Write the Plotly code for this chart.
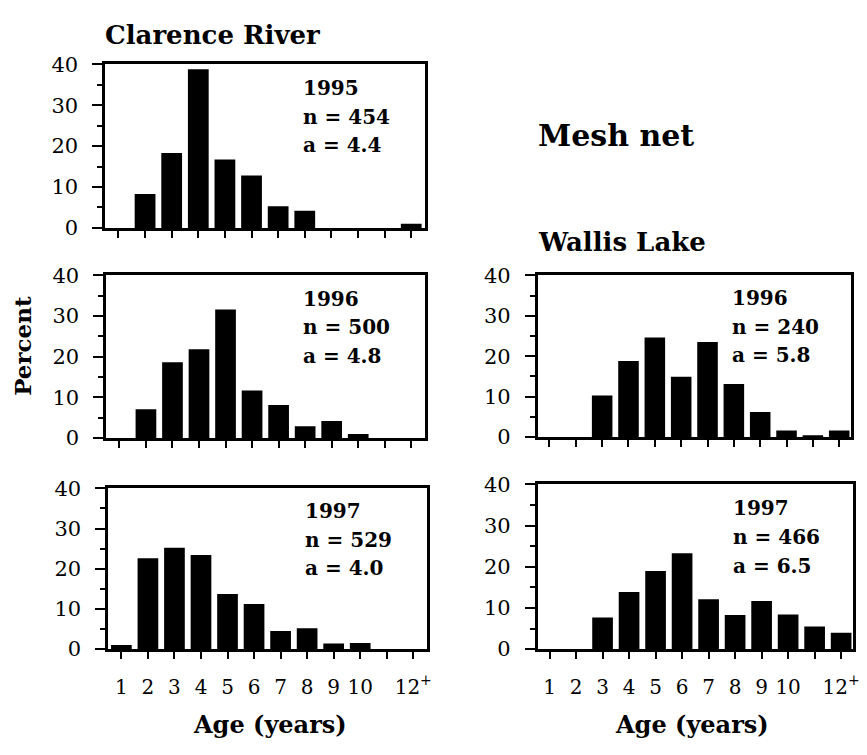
import plotly.graph_objects as go

# ---------------- data ----------------
ages = [1, 2, 3, 4, 5, 6, 7, 8, 9, 10, 11, 12]
age_tick_text = ["1", "2", "3", "4", "5", "6", "7", "8", "9", "10", "", "12<sup>+</sup>"]

clarence_1995 = [0, 8.3, 18.3, 38.8, 16.7, 12.8, 5.3, 4.2, 0, 0, 0, 1.0]
clarence_1996 = [0, 7.1, 18.6, 21.8, 31.6, 11.7, 8.1, 2.9, 4.2, 1.0, 0, 0]
clarence_1997 = [1.0, 22.6, 25.2, 23.4, 13.7, 11.2, 4.5, 5.2, 1.4, 1.5, 0, 0]
wallis_1996 = [0, 0, 10.3, 18.8, 24.6, 14.9, 23.5, 13.1, 6.2, 1.6, 0.3, 1.6]
wallis_1997 = [0, 0, 7.7, 13.9, 19.0, 23.3, 12.1, 8.3, 11.7, 8.4, 5.5, 4.0]

years = ["1995", "1996", "1997", "1996", "1997"]
n_values = ["454", "500", "529", "240", "466"]
a_values = ["4.4", "4.8", "4.0", "5.8", "6.5"]

y_ticks = [0, 10, 20, 30, 40]

# ---------------- layout helpers ----------------
W, H = 867, 755
SERIF = "DejaVu Serif"


def xdom(x0, x1):
    return [x0 / W, x1 / W]


def ydom(top, bottom):
    return [1 - bottom / H, 1 - top / H]


# panel boxes in pixels: (left, right, top, bottom), x-range
panels = [
    (clarence_1995, (106, 428, 54, 223), [0.5, 12.5], False),
    (clarence_1996, (107, 428, 272, 440), [0.5, 12.5], False),
    (clarence_1997, (109, 430, 492, 658), [0.5, 12.5], True),
    (wallis_1996, (542, 858, 272, 439), [0.55, 12.45], False),
    (wallis_1997, (542, 860, 488, 658), [0.55, 12.45], True),
]

fig = go.Figure()
layout = dict(
    width=W,
    height=H,
    margin=dict(l=0, r=0, t=0, b=0),
    paper_bgcolor="white",
    plot_bgcolor="white",
    showlegend=False,
    font=dict(family=SERIF, color="black"),
)

annotations = []
for i, (vals, (l, r, t, b), xr, show_labels) in enumerate(panels):
    k = "" if i == 0 else str(i + 1)
    fig.add_trace(go.Bar(
        x=ages, y=vals, width=0.78,
        marker=dict(color="black", line=dict(width=0)),
        xaxis="x" + k, yaxis="y" + k,
        hoverinfo="x+y",
    ))
    layout["xaxis" + k] = dict(
        domain=xdom(l, r), range=xr, anchor="y" + k,
        tickmode="array", tickvals=ages,
        ticktext=age_tick_text if show_labels else [""] * len(ages),
        showticklabels=show_labels,
        ticks="outside", ticklen=7, tickwidth=2, tickcolor="black",
        showline=True, linewidth=2.5, linecolor="black", mirror=True,
        showgrid=False, zeroline=False,
        tickfont=dict(family=SERIF, size=20, color="black"),
        ticklabelstandoff=11,
        fixedrange=True,
    )
    layout["yaxis" + k] = dict(
        domain=ydom(t, b), range=[0, 40], anchor="x" + k,
        tickmode="array", tickvals=y_ticks,
        ticks="outside", ticklen=10, tickwidth=2, tickcolor="black",
        minor=dict(tickvals=[5, 15, 25, 35], ticks="outside", ticklen=5,
                   tickwidth=2, tickcolor="black", showgrid=False),
        showline=True, linewidth=2.5, linecolor="black", mirror=True,
        showgrid=False, zeroline=False,
        tickfont=dict(family=SERIF, size=21, color="black"),
        ticklabelstandoff=10,
        fixedrange=True,
    )
    for txt, yv in ((years[i], 34.3), ("n = " + n_values[i], 27.2), ("a = " + a_values[i], 20.2)):
        annotations.append(dict(
            x=7.85, y=yv, xref="x" + k, yref="y" + k,
            text="<b>" + txt + "</b>", showarrow=False,
            xanchor="left", yanchor="middle",
            font=dict(family=SERIF, size=20, color="black"),
        ))


def paper_text(text, px, py, size, xanchor="left", angle=0):
    annotations.append(dict(
        x=px / W, y=1 - py / H, xref="paper", yref="paper",
        text="<b>" + text + "</b>", showarrow=False,
        xanchor=xanchor, yanchor="middle", textangle=angle,
        font=dict(family=SERIF, size=size, color="black"),
    ))


paper_text("Clarence River", 104, 24, 26)
paper_text("Mesh net", 540, 128, 30)
paper_text("Wallis Lake", 540, 238, 26)
paper_text("Percent", 22, 345, 23, xanchor="center", angle=-90)
paper_text("Age (years)", 272, 736, 24, xanchor="center")
paper_text("Age (years)", 698, 736, 24, xanchor="center")

layout["annotations"] = annotations
fig.update_layout(**layout)
fig.write_html(
    "out.html",
    config={"displayModeBar": False},
    post_script="document.body.style.margin='0';document.body.style.padding='0';",
)
